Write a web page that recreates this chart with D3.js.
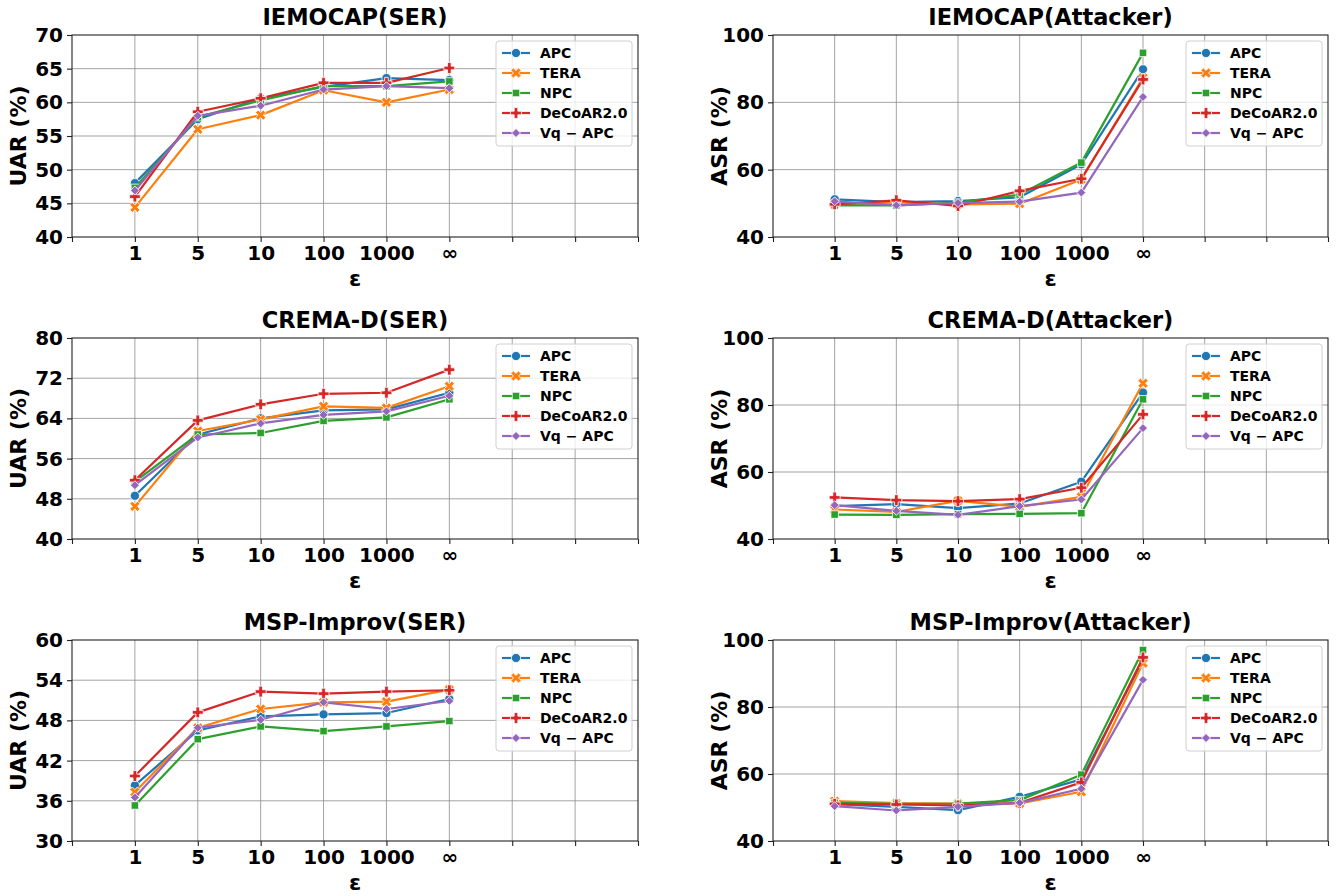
<!DOCTYPE html>
<html><head><meta charset="utf-8">
<script src="https://cdn.jsdelivr.net/npm/d3@7"></script>
<style>
body{margin:0;background:#fff}
svg{display:block}
text{font-family:"DejaVu Sans",sans-serif;font-weight:bold;fill:#000}
</style>
</head><body>
<svg id="chart" width="1340" height="896"></svg>
<script>
// ---- data ----
const xLabels = ["1", "5", "10", "100", "1000", "\u221e"];
const seriesNames = ["APC", "TERA", "NPC", "DeCoAR2.0", "Vq \u2212 APC"];
const seriesColors = ["#1f77b4", "#ff7f0e", "#2ca02c", "#d62728", "#9467bd"];
const seriesMarkers = ["circle", "x", "square", "plus", "diamond"];

// rows: APC, TERA, NPC, DeCoAR2.0, Vq-APC ; columns: eps 1,5,10,100,1000,inf
const iemocapSER = [
  [48.0, 57.5, 60.6, 62.3, 63.6, 63.3],
  [44.4, 56.0, 58.1, 61.8, 60.0, 61.9],
  [47.3, 57.8, 60.3, 62.4, 62.4, 63.1],
  [46.0, 58.6, 60.6, 62.9, 62.9, 65.1],
  [46.9, 58.0, 59.5, 61.9, 62.4, 62.1]
];
const iemocapAtk = [
  [51.2, 50.4, 50.7, 51.8, 61.6, 89.8],
  [49.7, 50.3, 49.7, 49.9, 57.1, 87.3],
  [49.4, 49.4, 50.2, 52.6, 62.1, 94.7],
  [49.7, 50.9, 49.2, 53.7, 57.3, 86.8],
  [50.6, 49.4, 50.1, 50.5, 53.2, 81.6]
];
const cremaSER = [
  [48.6, 60.8, 64.0, 65.6, 65.8, 69.1],
  [46.5, 61.5, 63.8, 66.4, 66.1, 70.4],
  [51.4, 60.8, 61.1, 63.5, 64.2, 67.8],
  [51.7, 63.6, 66.8, 68.9, 69.1, 73.7],
  [50.7, 60.2, 63.0, 64.7, 65.4, 68.5]
];
const cremaAtk = [
  [49.8, 50.4, 49.2, 50.6, 57.1, 83.7],
  [48.8, 48.1, 51.4, 49.6, 52.6, 86.5],
  [47.3, 47.2, 47.4, 47.5, 47.7, 81.7],
  [52.4, 51.6, 51.3, 51.9, 55.3, 77.2],
  [50.1, 48.4, 47.2, 49.8, 51.8, 73.1]
];
const mspSER = [
  [38.3, 46.5, 48.6, 48.9, 49.1, 51.2],
  [37.3, 46.9, 49.7, 50.7, 50.8, 52.6],
  [35.3, 45.2, 47.1, 46.4, 47.1, 47.9],
  [39.7, 49.2, 52.3, 52.0, 52.3, 52.5],
  [36.5, 46.9, 48.1, 50.7, 49.7, 50.9]
];
const mspAtk = [
  [51.0, 50.2, 49.2, 53.2, 58.4, 94.0],
  [51.9, 51.3, 51.2, 51.2, 54.7, 93.1],
  [51.4, 51.1, 51.2, 52.2, 59.8, 97.0],
  [51.1, 50.9, 50.6, 51.4, 57.5, 94.8],
  [50.4, 49.1, 50.2, 51.4, 55.6, 88.1]
];

const titles = ["IEMOCAP(SER)", "IEMOCAP(Attacker)", "CREMA-D(SER)", "CREMA-D(Attacker)", "MSP-Improv(SER)", "MSP-Improv(Attacker)"];
const yLabels = ["UAR (%)", "ASR (%)", "UAR (%)", "ASR (%)", "UAR (%)", "ASR (%)"];
const yTickSets = [
  [40, 45, 50, 55, 60, 65, 70],
  [40, 60, 80, 100],
  [40, 48, 56, 64, 72, 80],
  [40, 60, 80, 100],
  [30, 36, 42, 48, 54, 60],
  [40, 60, 80, 100]
];
const panelData = [iemocapSER, iemocapAtk, cremaSER, cremaAtk, mspSER, mspAtk];

// ---- layout ----
const cols = [[72, 638], [773, 1328]];
const rows = [[35, 237], [338, 539], [640, 841]];

const svg = d3.select("#chart");

function markerPath(type) {
  if (type === "circle") return d3.symbol(d3.symbolCircle, 66)();
  if (type === "square") return d3.symbol(d3.symbolSquare, 56)();
  if (type === "diamond") return d3.symbol(d3.symbolSquare, 40)();
  return d3.symbol(d3.symbolCross, 66)();
}
function markerRotate(type) {
  return (type === "x" || type === "diamond") ? 45 : 0;
}

panelData.forEach((data, p) => {
  const [x0, x1] = cols[p % 2];
  const [y0, y1] = rows[Math.floor(p / 2)];
  const yt = yTickSets[p];
  const x = d3.scaleLinear().domain([0, 9]).range([x0, x1]);
  const y = d3.scaleLinear().domain([yt[0], yt[yt.length - 1]]).range([y1, y0]);
  const g = svg.append("g");

  // grid
  g.append("g").selectAll("line").data(d3.range(1, 9)).join("line")
    .attr("x1", d => x(d)).attr("x2", d => x(d)).attr("y1", y0).attr("y2", y1)
    .attr("stroke", "#8c8c8c").attr("stroke-width", 0.8);
  g.append("g").selectAll("line").data(yt.slice(1, -1)).join("line")
    .attr("x1", x0).attr("x2", x1).attr("y1", d => y(d)).attr("y2", d => y(d))
    .attr("stroke", "#8c8c8c").attr("stroke-width", 0.8);

  // series
  const line = d3.line().x((d, i) => x(i + 1)).y(d => y(d));
  data.forEach((vals, s) => {
    g.append("path").datum(vals).attr("d", line)
      .attr("fill", "none").attr("stroke", seriesColors[s]).attr("stroke-width", 2.2)
      .attr("stroke-linejoin", "round");
    g.append("g").selectAll("path").data(vals).join("path")
      .attr("d", markerPath(seriesMarkers[s]))
      .attr("transform", (d, i) => `translate(${x(i + 1)},${y(d)}) rotate(${markerRotate(seriesMarkers[s])})`)
      .attr("fill", seriesColors[s]).attr("stroke", "#fff").attr("stroke-width", 0.8);
  });

  // spines
  g.append("rect").attr("x", x0).attr("y", y0).attr("width", x1 - x0).attr("height", y1 - y0)
    .attr("fill", "none").attr("stroke", "#222").attr("stroke-width", 1.1);

  // axes
  const xa = g.append("g").attr("transform", `translate(0,${y1})`)
    .call(d3.axisBottom(x).tickValues(d3.range(0, 10)).tickFormat(i => xLabels[i - 1] || "").tickSize(5).tickPadding(4));
  const ya = g.append("g").attr("transform", `translate(${x0},0)`)
    .call(d3.axisLeft(y).tickValues(yt).tickFormat(d3.format("d")).tickSize(5).tickPadding(4));
  [xa, ya].forEach(a => {
    a.select(".domain").remove();
    a.selectAll(".tick line").attr("stroke", "#222").attr("stroke-width", 1.1);
    a.selectAll(".tick text").style("font-size", "20px").style("font-weight", "bold")
      .style("font-family", "DejaVu Sans").attr("fill", "#000");
  });

  // title and labels
  g.append("text").attr("x", (x0 + x1) / 2).attr("y", y0 - 10).attr("text-anchor", "middle")
    .style("font-size", "22.5px").text(titles[p]);
  g.append("text").attr("x", (x0 + x1) / 2).attr("y", y1 + 49).attr("text-anchor", "middle")
    .style("font-size", "22px").text("\u03b5");
  const ylx = x0 - 46;
  g.append("text").attr("transform", `translate(${ylx},${(y0 + y1) / 2}) rotate(-90)`)
    .attr("text-anchor", "middle").style("font-size", "22px").text(yLabels[p]);

  // legend
  const lw = 136, lh = 105;
  const lx = x1 - 6 - lw, ly = y0 + 6;
  const lg = g.append("g").attr("transform", `translate(${lx},${ly})`);
  lg.append("rect").attr("width", lw).attr("height", lh).attr("rx", 3)
    .attr("fill", "#fff").attr("fill-opacity", 0.8).attr("stroke", "#d0d0d0").attr("stroke-width", 1);
  seriesNames.forEach((name, s) => {
    const yy = 12 + s * 20;
    lg.append("line").attr("x1", 6).attr("x2", 34).attr("y1", yy).attr("y2", yy)
      .attr("stroke", seriesColors[s]).attr("stroke-width", 2.2);
    lg.append("path").attr("d", markerPath(seriesMarkers[s]))
      .attr("transform", `translate(20,${yy}) rotate(${markerRotate(seriesMarkers[s])})`)
      .attr("fill", seriesColors[s]).attr("stroke", "#fff").attr("stroke-width", 0.8);
    lg.append("text").attr("x", 44).attr("y", yy).attr("dy", "0.36em")
      .style("font-size", "14px").text(name);
  });
});
</script>
</body></html>
